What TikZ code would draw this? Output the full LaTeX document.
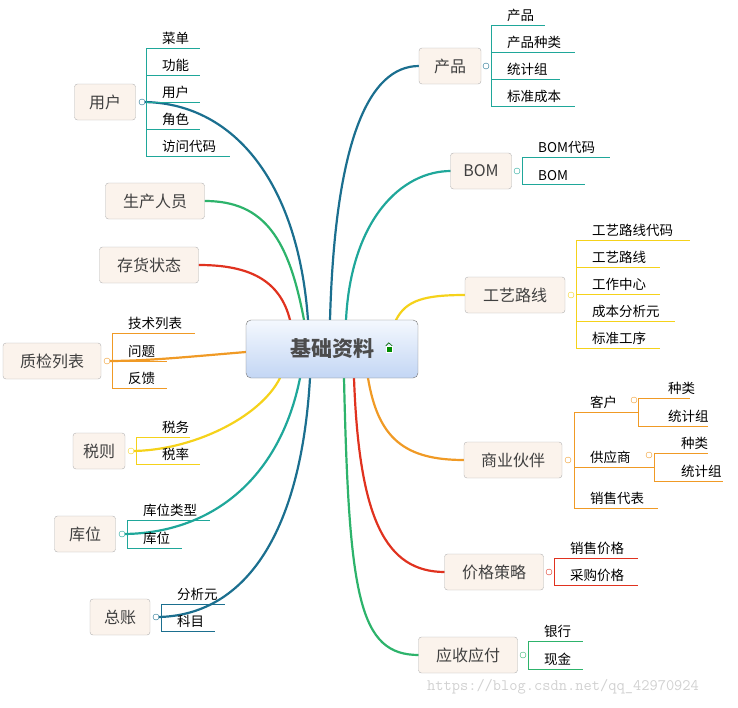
\documentclass[tikz,border=0pt]{standalone}
\usepackage{fontspec}
\newfontfamily\cjk{Noto Sans CJK SC}
\usetikzlibrary{calc}
\definecolor{boxfill}{HTML}{FBF3EC}
\definecolor{cBlue}{HTML}{1B6F8F}
\definecolor{cTeal}{HTML}{1FA79A}
\definecolor{cGreen}{HTML}{2DB36B}
\definecolor{cRed}{HTML}{E0321F}
\definecolor{cOrange}{HTML}{F09A25}
\definecolor{cYellow}{HTML}{F5D21A}
\definecolor{ctrTop}{HTML}{F4F8FE}
\definecolor{ctrBot}{HTML}{C3D6F4}
\tikzset{
  topic/.style={draw=gray!60,rounded corners=3pt,fill=boxfill,
    font=\cjk\fontsize{16}{16}\selectfont,text=black!75,minimum height=36pt,inner xsep=6pt},
  leaf/.style={font=\cjk\fontsize{13.5}{14}\selectfont,anchor=south west,inner sep=3pt,xshift=13pt},
  knob/.style={circle,draw,fill=white,inner sep=0pt,minimum size=6pt},
  limb/.style={line width=2.2pt,line cap=round},
  twig/.style={line width=0.8pt}
}
\begin{document}
\begin{tikzpicture}[x=1pt,y=-1pt]
\useasboundingbox (0,0) rectangle (738,707);

% limbs from the centre (drawn first, so boxes sit on top)
\coordinate (ctrNW) at (246,320);
\coordinate (ctrSW) at (246,378);
\coordinate (ctrW) at (246,352);
\draw[limb,cBlue] ($(ctrNW)+(62,0)$) .. controls +(-10,-140) and +(90,0) .. (142,102) coordinate (kYonghuPt);
\draw[limb,cGreen] ($(ctrNW)+(58,0)$) .. controls +(-15,-80) and +(60,0) .. (205,201) coordinate (renyuanPt);
\draw[limb,cRed] ($(ctrNW)+(44,0)$) .. controls +(-10,-40) and +(50,0) .. (199,265) coordinate (cunhuoPt);
\draw[limb,cOrange] (ctrW) .. controls +(-60,5) and +(40,0) .. (107,361) coordinate (kZhijianPt);
\draw[limb,cYellow] ($(ctrSW)+(34,0)$) .. controls +(-20,40) and +(60,0) .. (131,451) coordinate (kShuizePt);
\draw[limb,cTeal] ($(ctrSW)+(54,0)$) .. controls +(-20,100) and +(90,0) .. (122,534) coordinate (kKuweiPt);
\draw[limb,cBlue] ($(ctrSW)+(64,0)$) .. controls +(-10,170) and +(80,0) .. (156,617) coordinate (kZongzhangPt);
\draw[limb,cBlue] ($(ctrNW)+(84,0)$) .. controls +(5,-180) and +(-50,0) .. (419,66) coordinate (chanpinPt);
\draw[limb,cTeal] ($(ctrNW)+(100,0)$) .. controls +(5,-100) and +(-50,0) .. (451,171) coordinate (bomPt);
\draw[limb,cYellow] ($(ctrNW)+(150,0)$) .. controls +(10,-20) and +(-40,0) .. (465,295) coordinate (gongyiPt);
\draw[limb,cOrange] ($(ctrSW)+(122,0)$) .. controls +(10,60) and +(-60,0) .. (464,460) coordinate (huobanPt);
\draw[limb,cRed] ($(ctrSW)+(108,0)$) .. controls +(5,140) and +(-60,0) .. (445,572) coordinate (jiagePt);
\draw[limb,cGreen] ($(ctrSW)+(98,0)$) .. controls +(5,220) and +(-60,0) .. (419,655) coordinate (yingshouPt);

% centre
\node[draw=black!55,rounded corners=5pt,top color=ctrTop,bottom color=ctrBot,
  minimum width=172pt,minimum height=58pt,font=\cjk\bfseries\fontsize{21}{21}\selectfont,
  text=black!70] (ctr) at (332,349) {基础资料\hspace{20pt}};
\node[fill=green!55!black,minimum size=6pt,inner sep=0pt,draw=white] (ico) at (389,349) {};
\draw[green!40!black,line width=0.6pt] (ico.north west) -- ++(3,-3) -- (ico.north east);

% topics, left
\node[topic,minimum width=61pt] (yonghu) at (105,102) {用户};
\node[topic,minimum width=99pt] (renyuan) at (155,201) {生产人员};
\node[topic,minimum width=99pt] (cunhuo) at (149,265) {存货状态};
\node[topic,minimum width=98pt] (zhijian) at (52,361) {质检列表};
\node[topic,minimum width=52pt] (shuize) at (99,451) {税则};
\node[topic,minimum width=61pt] (kuwei) at (85,534) {库位};
\node[topic,minimum width=60pt] (zongzhang) at (120,617) {总账};
% topics, right
\node[topic,minimum width=62pt] (chanpin) at (450,66) {产品};
\node[topic,minimum width=61pt] (bom) at (481,171) {BOM};
\node[topic,minimum width=100pt] (gongyi) at (515,295) {工艺路线};
\node[topic,minimum width=98pt] (huoban) at (513,460) {商业伙伴};
\node[topic,minimum width=99pt] (jiage) at (494,572) {价格策略};
\node[topic,minimum width=99pt] (yingshou) at (468,655) {应收应付};

% leaves
\draw[twig,cTeal] (146,48) -- (146,156);
\foreach \y/\e/\t in {48/200/菜单,75/200/功能,102/200/用户,129/200/角色,156/230/访问代码}
  {\draw[twig,cTeal] (146,\y) -- (\e,\y); \node[leaf] at (146,\y) {\t};}
\draw[twig,cOrange] (112,333) -- (112,388);
\foreach \y/\e/\t in {333/195/技术列表,361/167/问题,388/167/反馈}
  {\draw[twig,cOrange] (112,\y) -- (\e,\y); \node[leaf] at (112,\y) {\t};}
\draw[twig,cYellow] (136,437) -- (136,464);
\foreach \y/\e/\t in {437/190/税务,464/200/税率}
  {\draw[twig,cYellow] (136,\y) -- (\e,\y); \node[leaf,xshift=10pt] at (136,\y) {\t};}
\draw[twig,cTeal] (127,520) -- (127,548);
\foreach \y/\e/\t in {520/210/库位类型,548/182/库位}
  {\draw[twig,cTeal] (127,\y) -- (\e,\y); \node[leaf] at (127,\y) {\t};}
\draw[twig,cBlue] (161,604) -- (161,631);
\foreach \y/\e/\t in {604/225/分析元,631/215/科目}
  {\draw[twig,cBlue] (161,\y) -- (\e,\y); \node[leaf] at (161,\y) {\t};}

\draw[twig,cTeal] (491,25) -- (491,106);
\foreach \y/\e/\t in {25/545/产品,52/575/产品种类,79/560/统计组,106/575/标准成本}
  {\draw[twig,cTeal] (491,\y) -- (\e,\y); \node[leaf] at (491,\y) {\t};}
\draw[twig,cTeal] (522,157) -- (522,184);
\foreach \y/\e/\t in {157/610/BOM代码,184/585/BOM}
  {\draw[twig,cTeal] (522,\y) -- (\e,\y); \node[leaf] at (522,\y) {\t};}
\draw[twig,cYellow] (576,240) -- (576,348);
\foreach \y/\e/\t in {240/690/工艺路线代码,267/660/工艺路线,294/660/工作中心,321/675/成本分析元,348/660/标准工序}
  {\draw[twig,cYellow] (576,\y) -- (\e,\y); \node[leaf] at (576,\y) {\t};}
\draw[twig,cOrange] (574,412) -- (574,508);
\foreach \y/\e/\t in {412/638/客户,467/654/供应商,508/658/销售代表}
  {\draw[twig,cOrange] (574,\y) -- (\e,\y); \node[leaf] at (574,\y) {\t};}
\draw[twig,cOrange] (638,398) -- (638,426);
\foreach \y/\e/\t in {398/690/种类,426/708/统计组}
  {\draw[twig,cOrange] (638,\y) -- (\e,\y); \node[leaf,xshift=14pt] at (638,\y) {\t};}
\draw[twig,cOrange] (654,453) -- (654,481);
\foreach \y/\e/\t in {453/708/种类,481/723/统计组}
  {\draw[twig,cOrange] (654,\y) -- (\e,\y); \node[leaf,xshift=11pt] at (654,\y) {\t};}
\draw[twig,cRed] (554,558) -- (554,585);
\foreach \y/\e/\t in {558/638/销售价格,585/638/采购价格}
  {\draw[twig,cRed] (554,\y) -- (\e,\y); \node[leaf] at (554,\y) {\t};}
\draw[twig,cGreen] (528,641) -- (528,669);
\foreach \y/\e/\t in {641/583/银行,669/583/现金}
  {\draw[twig,cGreen] (528,\y) -- (\e,\y); \node[leaf] at (528,\y) {\t};}

% knobs
\node[knob,draw=cBlue] (kYonghu) at (142,102) {};
\node[knob,draw=cOrange] (kZhijian) at (107,361) {};
\node[knob,draw=cYellow] (kShuize) at (131,451) {};
\node[knob,draw=cTeal] (kKuwei) at (122,534) {};
\node[knob,draw=cBlue] (kZongzhang) at (156,617) {};
\node[knob,draw=cBlue] (kChanpin) at (486,66) {};
\node[knob,draw=cTeal] (kBom) at (517,171) {};
\node[knob,draw=cYellow] (kGongyi) at (571,295) {};
\node[knob,draw=cOrange] (kHuoban) at (568,460) {};
\node[knob,draw=cOrange] (kKehu) at (634,400) {};
\node[knob,draw=cOrange] (kGongying) at (649,455) {};
\node[knob,draw=cRed] (kJiage) at (549,572) {};
\node[knob,draw=cGreen] (kYingshou) at (523,655) {};

% watermark
\node[font=\ttfamily\fontsize{16}{16}\selectfont,text=black!18] (mark) at (563,687) {https://blog.csdn.net/qq\_42970924};
\end{tikzpicture}
\end{document}
